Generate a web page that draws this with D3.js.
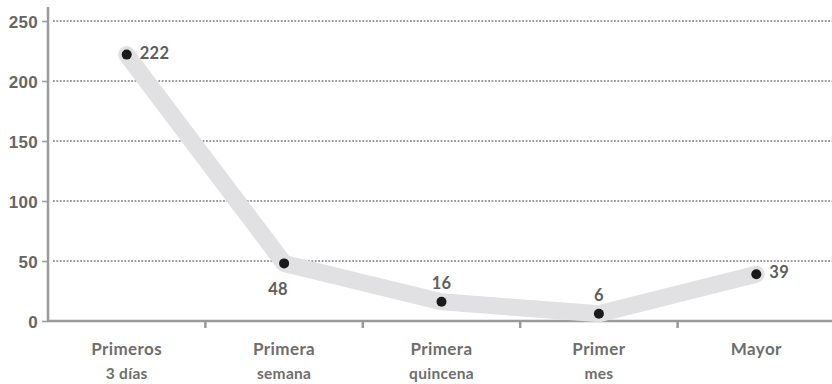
<!DOCTYPE html>
<html>
<head>
<meta charset="utf-8">
<script src="https://cdn.jsdelivr.net/npm/d3@7"></script>
<style>
  body { margin: 0; background: #fff; }
  svg { display: block; font-family: Lato, "Open Sans", sans-serif; }
</style>
</head>
<body>
<div id="chart"></div>
<script>

// data
var categories = [["Primeros", "3 días"], ["Primera", "semana"], ["Primera", "quincena"], ["Primer", "mes"], ["Mayor", ""]];
var values = [222, 48, 16, 6, 39];
var yTicks = [0, 50, 100, 150, 200, 250];
// where each value label sits relative to its dot
var labelPlace = ["right", "below", "above", "above", "right"];

var w = 832, h = 384;
var x0 = 48, x1 = 835, yTop = 21, yBottom = 321;

var svg = d3.select("#chart").append("svg")
  .attr("width", w)
  .attr("height", h);

var x = d3.scaleBand()
  .domain(d3.range(categories.length))
  .range([x0, x1]);

var y = d3.scaleLinear()
  .domain([0, 250])
  .range([yBottom, yTop]);

//dotted grid
svg.selectAll("line.grid")
  .data(yTicks.filter(function(d){ return d > 0; }))
  .enter()
  .append("line")
  .attr("class", "grid")
  .attr("x1", x0 + 5)
  .attr("x2", w)
  .attr("y1", function(d){ return y(d); })
  .attr("y2", function(d){ return y(d); })
  .attr("stroke", "#9a9a9a")
  .attr("stroke-width", 2)
  .attr("stroke-dasharray", "1.8,1.6");

//y axis
var yAxis = svg.append("g")
  .attr("transform", "translate(" + x0 + ",0)")
  .call(d3.axisLeft(y).tickValues(yTicks).tickSize(6).tickPadding(4));
yAxis.select(".domain").remove();
yAxis.selectAll(".tick line").attr("stroke", "#9a9a9a").attr("stroke-width", 1.5);
yAxis.selectAll(".tick text")
  .attr("fill", "#666")
  .attr("dy", "0.36em")
  .style("font-size", "17px")
  .style("font-weight", "bold")
  .style("letter-spacing", "0.3px");

svg.append("line")
  .attr("x1", x0).attr("x2", x0)
  .attr("y1", 7).attr("y2", yBottom)
  .attr("stroke", "#9a9a9a")
  .attr("stroke-width", 2.5);

//x axis
svg.append("line")
  .attr("x1", x0).attr("x2", w)
  .attr("y1", yBottom).attr("y2", yBottom)
  .attr("stroke", "#9a9a9a")
  .attr("stroke-width", 2.5);

svg.selectAll("line.xtick")
  .data(d3.range(1, categories.length))
  .enter()
  .append("line")
  .attr("class", "xtick")
  .attr("x1", function(d){ return x(d); })
  .attr("x2", function(d){ return x(d); })
  .attr("y1", yBottom)
  .attr("y2", yBottom + 7)
  .attr("stroke", "#9a9a9a")
  .attr("stroke-width", 2.5);

var cat = svg.selectAll("text.cat")
  .data(categories)
  .enter()
  .append("text")
  .attr("class", "cat")
  .attr("text-anchor", "middle")
  .attr("fill", "#6e6e6e")
  .style("font-weight", "bold");

cat.append("tspan")
  .attr("x", function(d, i){ return x(i) + x.bandwidth() / 2; })
  .attr("y", 355)
  .style("font-size", "17px")
  .style("letter-spacing", "0.4px")
  .text(function(d){ return d[0]; });

cat.append("tspan")
  .attr("x", function(d, i){ return x(i) + x.bandwidth() / 2; })
  .attr("y", 379)
  .style("font-size", "15.5px")
  .style("letter-spacing", "0.3px")
  .text(function(d){ return d[1]; });

//thick grey line
var line = d3.line()
  .x(function(d, i){ return x(i) + x.bandwidth() / 2; })
  .y(function(d){ return y(d); });

svg.append("path")
  .datum(values)
  .attr("d", line)
  .attr("fill", "none")
  .attr("stroke", "#e1e1e3")
  .attr("stroke-width", 17)
  .attr("stroke-linecap", "round")
  .attr("stroke-linejoin", "round");

//dots
svg.selectAll("circle.dot")
  .data(values)
  .enter()
  .append("circle")
  .attr("class", "dot")
  .attr("cx", function(d, i){ return x(i) + x.bandwidth() / 2; })
  .attr("cy", function(d){ return y(d); })
  .attr("r", 5)
  .attr("fill", "#1a1a1a");

//value labels
svg.selectAll("text.val")
  .data(values)
  .enter()
  .append("text")
  .attr("class", "val")
  .attr("x", function(d, i){
    var cx = x(i) + x.bandwidth() / 2;
    if (labelPlace[i] == "right") return cx + 13;
    if (labelPlace[i] == "below") return cx - 6;
    return cx;
  })
  .attr("y", function(d, i){
    var cy = y(d);
    if (labelPlace[i] == "right") return cy + 4;
    if (labelPlace[i] == "below") return cy + 32;
    return cy - 13;
  })
  .attr("text-anchor", function(d, i){ return labelPlace[i] == "right" ? "start" : "middle"; })
  .attr("fill", "#5e5e5e")
  .style("font-size", "16.5px")
  .style("font-weight", "bold")
  .style("letter-spacing", "0.3px")
  .text(function(d){ return d; });

</script>
</body>
</html>
